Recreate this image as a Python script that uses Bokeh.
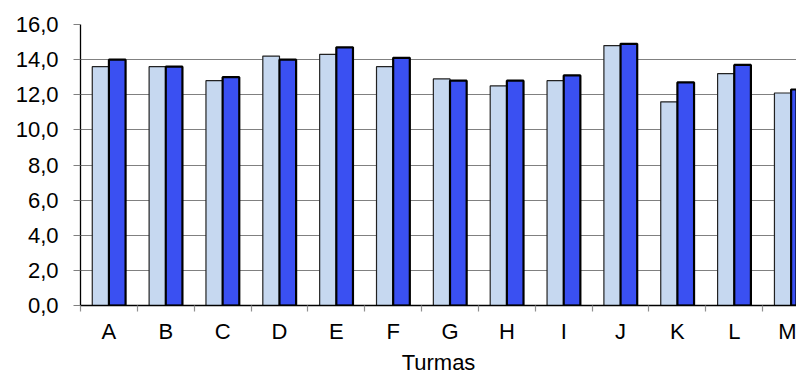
from bokeh.plotting import figure
from bokeh.models import (ColumnDataSource, Range1d, FixedTicker, CustomJSTickFormatter)
from bokeh.embed import file_html
from bokeh.resources import INLINE

categories = ["A", "B", "C", "D", "E", "F", "G", "H", "I", "J", "K", "L", "M"]
series1 = [13.6, 13.6, 12.8, 14.2, 14.3, 13.6, 12.9, 12.5, 12.8, 14.8, 11.6, 13.2, 12.1]
series2 = [14.0, 13.6, 13.0, 14.0, 14.7, 14.1, 12.8, 12.8, 13.1, 14.9, 12.7, 13.7, 12.3]
y_ticks = [0, 2, 4, 6, 8, 10, 12, 14, 16]
x_title = "Turmas"

FONT = "Liberation Sans"
n = len(categories)
centers = [i + 0.5 for i in range(n)]
bw = 0.293
src = ColumnDataSource(dict(
    x1=[c - bw / 2 for c in centers],
    x2=[c + bw / 2 for c in centers],
    s1=series1, s2=series2,
))

p = figure(width=796, height=377, output_backend="svg", toolbar_location=None,
           x_range=Range1d(0, 12.595), y_range=Range1d(0, 16),
           min_border_left=80, min_border_right=0, min_border_top=24, min_border_bottom=72)
p.outline_line_color = None
p.background_fill_color = "white"
p.border_fill_color = "white"

p.vbar(x="x1", top="s1", bottom=0, width=bw, source=src,
       fill_color="#C6D8F0", line_color="#222222", line_width=1.2)
p.vbar(x="x2", top="s2", bottom=0, width=bw, source=src,
       fill_color="#3A50F2", line_color="#000000", line_width=2.2)

# grid
p.xgrid.visible = False
p.ygrid.ticker = FixedTicker(ticks=y_ticks)
p.ygrid.grid_line_color = "#808080"
p.ygrid.grid_line_width = 1

# y axis
ya = p.yaxis[0]
ya.ticker = FixedTicker(ticks=y_ticks)
ya.formatter = CustomJSTickFormatter(code="return tick.toFixed(1).replace('.', ',');")
ya.axis_line_color = "black"
ya.axis_line_width = 1.3
ya.major_tick_out = 7
ya.major_tick_in = 0
ya.major_tick_line_color = "#808080"
ya.minor_tick_line_color = None
ya.major_label_standoff = 15
ya.major_label_text_font = FONT
ya.major_label_text_font_size = "22px"
ya.major_label_text_color = "black"

# x axis
xa = p.xaxis[0]
xa.ticker = FixedTicker(ticks=centers, minor_ticks=list(range(n + 1)))
xa.formatter = CustomJSTickFormatter(args=dict(cats=categories),
                                     code="return cats[Math.floor(tick)];")
xa.axis_line_color = "black"
xa.axis_line_width = 1.3
xa.major_tick_out = 0
xa.major_tick_in = 0
xa.major_tick_line_color = None
xa.minor_tick_out = 6
xa.minor_tick_in = 0
xa.minor_tick_line_color = "#909090"
xa.minor_tick_line_width = 1.2
xa.major_label_standoff = 7
xa.major_label_text_font = FONT
xa.major_label_text_font_size = "22px"
xa.major_label_text_color = "black"
xa.axis_label = x_title
xa.axis_label_standoff = 3
xa.axis_label_text_font = FONT
xa.axis_label_text_font_size = "22px"
xa.axis_label_text_font_style = "normal"
xa.axis_label_text_color = "black"

open("out.html", "w").write(file_html(p, INLINE))
